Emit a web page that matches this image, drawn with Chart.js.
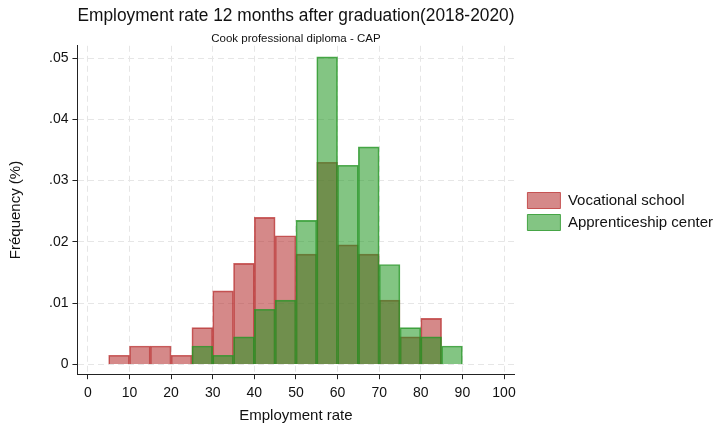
<!DOCTYPE html>
<html>
<head>
<meta charset="utf-8">
<script src="https://cdn.jsdelivr.net/npm/chart.js@4"></script>
<style>
  body { margin: 0; background: #fff; }
  #wrap { width: 723px; height: 423px; }
</style>
</head>
<body>
<div id="wrap"><canvas id="hist_chart"></canvas></div>
<script>
// histogram bins (start of each 5-point bin)
const binStarts = [5, 10, 15, 20, 25, 30, 35, 40, 45, 50, 55, 60, 65, 70, 75, 80, 85];
const vocational = [.0015, .003, .003, .0015, .006, .012, .0165, .024, .021, .018, .033, .0195, .018, .0105, .0045, .0075, null];
const apprentice = [null, null, null, null, .003, .0015, .0045, .009, .0105, .0235, .0502, .0325, .0355, .0163, .006, .0045, .003];
const xTicks = [0, 10, 20, 30, 40, 50, 60, 70, 80, 90, 100];
const yTicks = [0, .01, .02, .03, .04, .05];

const toPoints = vals => binStarts.map((s, i) => ({ x: s + 2.5, y: vals[i] }));
const font = 'Liberation Sans, Arial, Helvetica, sans-serif';

const gridOpts = {
    color: '#e6e6e6',
    offset: false,
    tickColor: '#222',
    tickBorderDash: [],
    tickLength: 5
};

// leave a small gap between plot and legend, legend items stay put
const legendGap = {
    id: 'legendGap',
    afterInit(chart) {
        const lg = chart.legend;
        const fit = lg.fit;
        lg.fit = function () { fit.call(this); this.width += 7; };
    },
    afterLayout(chart) {
        chart.legend.left += 7;
        chart.legend.right += 7;
    }
};

const ctx = document.getElementById('hist_chart').getContext('2d');

new Chart(ctx, {
    type: 'bar',
    data: {
        datasets: [{
            label: 'Vocational school',
            data: toPoints(vocational),
            backgroundColor: 'rgba(178, 40, 40, 0.55)',
            borderColor: 'rgba(185, 45, 45, 0.75)',
            borderWidth: 1,
            order: 2
        }, {
            label: 'Apprenticeship center',
            data: toPoints(apprentice),
            backgroundColor: 'rgba(30, 150, 30, 0.55)',
            borderColor: 'rgba(40, 150, 40, 0.8)',
            borderWidth: 1,
            order: 1
        }]
    },
    options: {
        responsive: true,
        maintainAspectRatio: false,
        animation: false,
        grouped: false,
        barPercentage: 1,
        categoryPercentage: 1,
        layout: { padding: { left: 7, right: 0, bottom: 0 } },
        scales: {
            x: {
                type: 'linear',
                offset: false,
                min: -2.5,
                max: 102.5,
                afterBuildTicks: axis => { axis.ticks = xTicks.map(v => ({ value: v })); },
                grid: gridOpts,
                border: { display: true, color: '#222', width: 1, dash: [6, 4] },
                ticks: { color: '#111', font: { family: font, size: 14 }, padding: 6, maxRotation: 0 },
                title: { display: true, text: 'Employment rate', color: '#111', font: { family: font, size: 15, lineHeight: 1 }, padding: { top: 0, bottom: 0 } }
            },
            y: {
                min: -0.0016,
                max: 0.052,
                afterBuildTicks: axis => { axis.ticks = yTicks.map(v => ({ value: v })); },
                grid: gridOpts,
                border: { display: true, color: '#222', width: 1, dash: [6, 4] },
                ticks: {
                    color: '#111',
                    font: { family: font, size: 14 },
                    padding: 4,
                    callback: v => v === 0 ? '0' : v.toFixed(2).replace(/^0/, '')
                },
                title: { display: true, text: 'Fréquency (%)', color: '#111', font: { family: font, size: 15 }, padding: { top: 0, bottom: 20 } }
            }
        },
        plugins: {
            title: {
                display: true,
                fullSize: false,
                text: 'Employment rate 12 months after graduation(2018-2020)',
                color: '#111',
                font: { family: font, size: 17.5, weight: 'normal' },
                padding: { top: 6, bottom: 5 }
            },
            subtitle: {
                display: true,
                fullSize: false,
                text: 'Cook professional diploma - CAP',
                color: '#111',
                font: { family: font, size: 11.5 },
                padding: { top: 0, bottom: 0 }
            },
            legend: {
                position: 'right',
                maxWidth: 212,
                labels: {
                    color: '#111',
                    font: { family: font, size: 15 },
                    boxWidth: 33,
                    boxHeight: 16,
                    padding: 6,
                    sort: (a, b) => a.datasetIndex - b.datasetIndex
                }
            },
            tooltip: { enabled: false }
        }
    },
    plugins: [legendGap]
});
</script>
</body>
</html>
